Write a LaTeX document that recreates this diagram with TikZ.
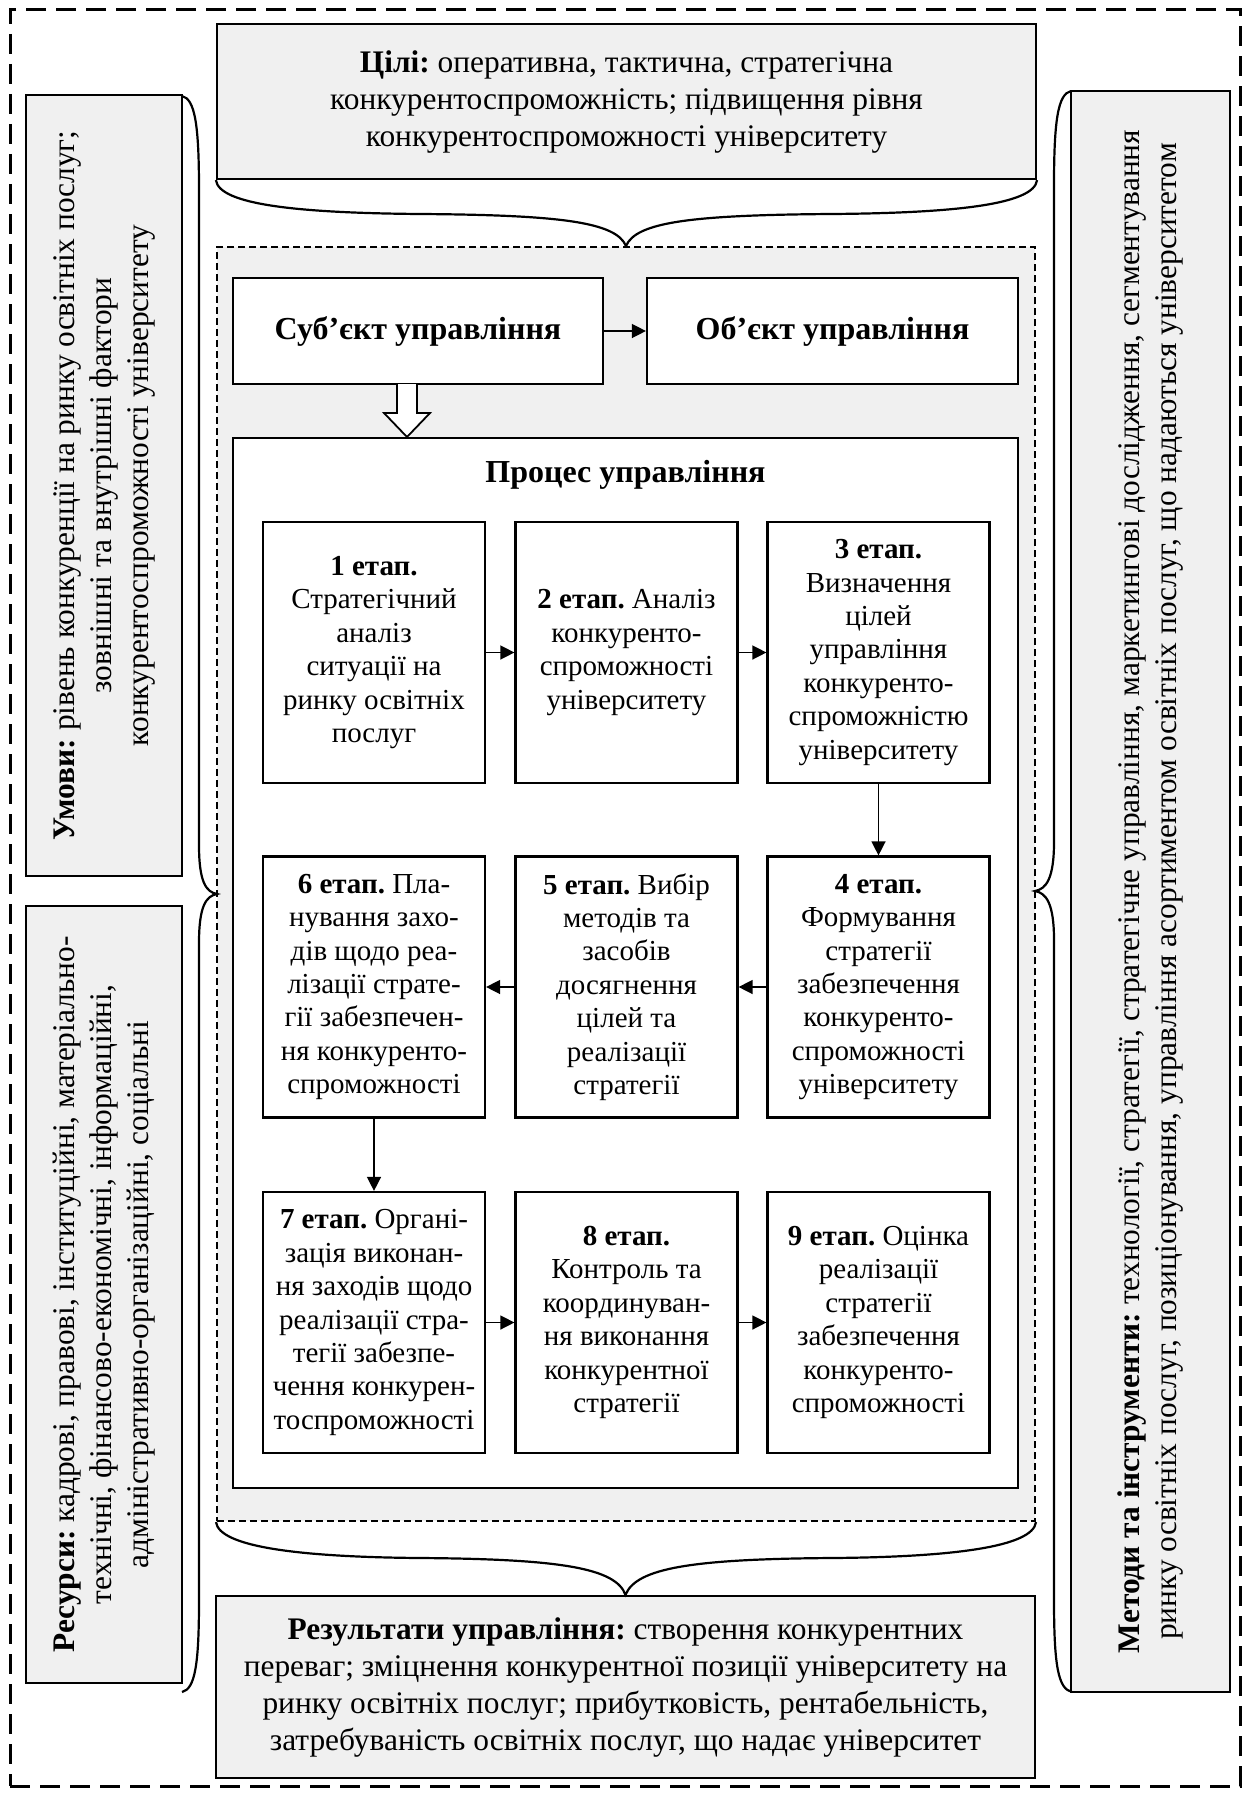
\documentclass[tikz,border=0pt]{standalone}
\usepackage{fontspec}
\setmainfont{Liberation Serif}
\usetikzlibrary{arrows.meta}
\definecolor{gfill}{RGB}{240,240,240}
\newcommand\mainsz{\fontsize{15.7}{18.5}\selectfont}
\newcommand\stepsz{\fontsize{14.5}{16.7}\selectfont}
\newcommand\headsz{\fontsize{16}{19}\selectfont}
\frenchspacing
\begin{document}
\frenchspacing
\begin{tikzpicture}[x=0.5pt,y=-0.5pt,
  greybox/.style={draw, fill=gfill, line width=1.1pt, align=center, inner sep=2pt, font=\mainsz\frenchspacing},
  whitebox/.style={draw, fill=white, line width=1.1pt, align=center, inner sep=2pt},
  stepbox/.style={whitebox, font=\stepsz\frenchspacing, minimum width=111pt, minimum height=130.5pt, inner sep=0pt},
  bracestyle/.style={line width=1.1pt},
  arr/.style={line width=0.7pt, -{Triangle[length=7pt,width=7pt]}},
  outerdash/.style={line width=1.5pt, dash pattern=on 10pt off 5pt},
  innerdash/.style={line width=1pt, dash pattern=on 3.5pt off 2pt}]
\useasboundingbox (0,0) rectangle (1245,1793);
\fill[white] (0,0) rectangle (1245,1793);

% outer dashed frame
\node[draw, outerdash, minimum width=615pt, minimum height=888pt, inner sep=0pt] (outer) at (625,898) {};

% inner dashed grey frame
\node[draw, fill=gfill, innerdash, minimum width=409pt, minimum height=637pt, inner sep=0pt] (inner) at (626,884) {};

% goals
\node[greybox, minimum width=409.5pt, minimum height=77.5pt] (goals) at (626.5,101.5)
  {\textbf{Цілі:} оперативна, тактична, стратегічна\\конкурентоспроможність; підвищення рівня\\конкурентоспроможності університету};

% conditions (rotated)
\node[greybox, rotate=90, minimum width=390.5pt, minimum height=78pt] (cond) at (104,485.5)
  {\textbf{Умови:} рівень конкуренції на ринку освітніх послуг;\\зовнішні та внутрішні фактори\\конкурентоспроможності університету};

% resources (rotated)
\node[greybox, rotate=90, minimum width=388.5pt, minimum height=78pt] (resrc) at (104,1294.5)
  {\textbf{Ресурси:} кадрові, правові, інституційні, матеріально-\\технічні, фінансово-економічні, інформаційні,\\адміністративно-організаційні, соціальні};

% methods (rotated)
\node[greybox, rotate=90, minimum width=800.5pt, minimum height=79.5pt, inner sep=1pt] (meth) at (1150.5,891.5)
  {\textbf{Методи та інструменти:} технології, стратегії, стратегічне управління, маркетингові дослідження, сегментування\\ринку освітніх послуг, позиціонування, управління асортиментом освітніх послуг, що надаються університетом};

% results
\node[greybox, minimum width=409.5pt, minimum height=91pt] (res) at (625.5,1687)
  {\textbf{Результати управління:} створення конкурентних\\переваг; зміцнення конкурентної позиції університету на\\ринку освітніх послуг; прибутковість, рентабельність,\\затребуваність освітніх послуг, що надає університет};

% subject / object
\node[whitebox, font=\headsz\bfseries, minimum width=185pt, minimum height=53pt] (sub) at (418,331) {Суб’єкт управління};
\node[whitebox, font=\headsz\bfseries, minimum width=185.5pt, minimum height=53pt] (obj) at (832.5,331) {Об’єкт управління};
\draw[arr] (sub.east) -- (obj.west);

% process box
\node[whitebox, minimum width=392.5pt, minimum height=525pt] (proc) at (625.5,963) {};
\node[font=\headsz\bfseries] (ptitle) at (625.5,475) {Процес управління};

% hollow block arrow
\draw[line width=0.9pt, fill=white, line join=miter] (397,384) -- (397,413) -- (384,413) -- (407,437) -- (430,413) -- (417,413) -- (417,384);

% steps
\node[stepbox] (s1) at (374,652.5) {\textbf{1 етап.}\\Стратегічний\\аналіз\\ситуації на\\ринку освітніх\\послуг};
\node[stepbox] (s2) at (626.5,652.5) {\textbf{2 етап.} Аналіз\\конкуренто-\\спроможності\\університету};
\node[stepbox] (s3) at (878.5,652.5) {\textbf{3 етап.}\\Визначення\\цілей\\управління\\конкуренто-\\спроможністю\\університету};
\node[stepbox] (s4) at (878.5,987) {\textbf{4 етап.}\\Формування\\стратегії\\забезпечення\\конкуренто-\\спроможності\\університету};
\node[stepbox] (s5) at (626.5,987) {\textbf{5 етап.} Вибір\\методів та\\засобів\\досягнення\\цілей та\\реалізації\\стратегії};
\node[stepbox] (s6) at (374,987) {\textbf{6 етап.} Пла-\\нування захо-\\дів щодо реа-\\лізації страте-\\гії забезпечен-\\ня конкуренто-\\спроможності};
\node[stepbox] (s7) at (374,1322.5) {\textbf{7 етап.} Органі-\\зація виконан-\\ня заходів щодо\\реалізації стра-\\тегії забезпе-\\чення конкурен-\\тоспроможності};
\node[stepbox] (s8) at (626.5,1322.5) {\textbf{8 етап.}\\Контроль та\\координуван-\\ня виконання\\конкурентної\\стратегії};
\node[stepbox] (s9) at (878.5,1322.5) {\textbf{9 етап.} Оцінка\\реалізації\\стратегії\\забезпечення\\конкуренто-\\спроможності};

\draw[arr] (s1.east) -- (s2.west);
\draw[arr] (s2.east) -- (s3.west);
\draw[arr] (s3.south) -- (s4.north);
\draw[arr] (s4.west) -- (s5.east);
\draw[arr] (s5.west) -- (s6.east);
\draw[arr] (s6.south) -- (s7.north);
\draw[arr] (s7.east) -- (s8.west);
\draw[arr] (s8.east) -- (s9.west);

% braces
\draw[bracestyle] (goals.south west) .. controls (219,205) and (300,213) .. (420,214)
  .. controls (560,215) and (616,222) .. (inner.north)
  .. controls (636,222) and (692,215) .. (832,214)
  .. controls (952,213) and (1034,205) .. (goals.south east);

\draw[bracestyle] (inner.south west) .. controls (219,1547) and (300,1557) .. (420,1558)
  .. controls (560,1559) and (616,1568) .. (res.north)
  .. controls (636,1568) and (692,1559) .. (832,1558)
  .. controls (952,1557) and (1033,1547) .. (inner.south east);

\coordinate (lbtop) at (182,96);
\coordinate (lbtip) at (217,894);
\coordinate (lbbot) at (182,1692);
\draw[bracestyle] (lbtop) .. controls (195,99) and (199,125) .. (199,190) -- (199,845)
  .. controls (199,882) and (206,892) .. (lbtip)
  .. controls (206,896) and (199,906) .. (199,943) -- (199,1600)
  .. controls (199,1665) and (195,1689) .. (lbbot);

\coordinate (rbtop) at (1071,91);
\coordinate (rbtip) at (1035,891);
\coordinate (rbbot) at (1072,1692);
\draw[bracestyle] (rbtop) .. controls (1058,94) and (1054,120) .. (1054,185) -- (1054,842)
  .. controls (1054,879) and (1046,889) .. (rbtip)
  .. controls (1046,893) and (1054,903) .. (1054,940) -- (1054,1600)
  .. controls (1054,1665) and (1058,1689) .. (rbbot);
\end{tikzpicture}
\end{document}
